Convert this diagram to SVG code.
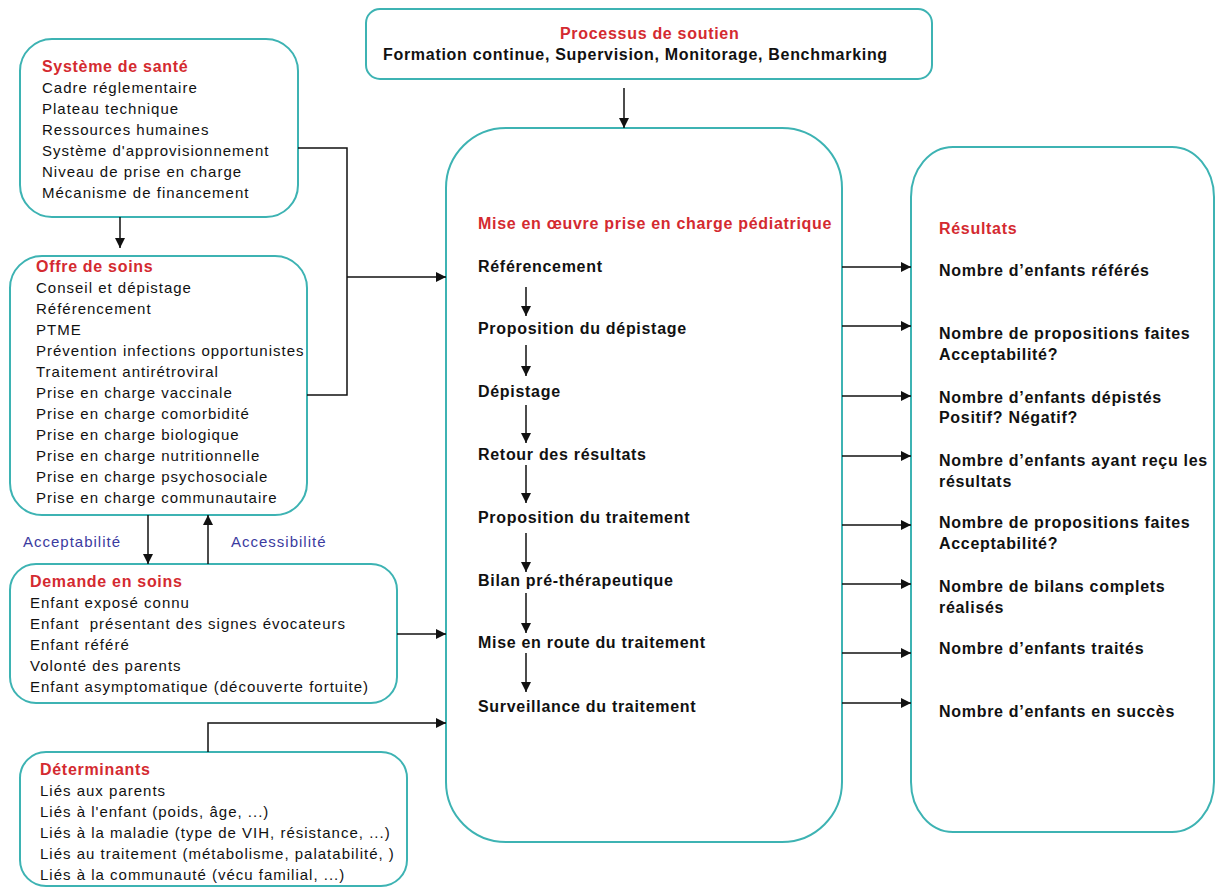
<svg xmlns="http://www.w3.org/2000/svg" width="1216" height="888" viewBox="0 0 1216 888">
  <style>
    .box { fill: #ffffff; stroke: #3DB3B3; stroke-width: 2; }
    text { font-family: "Liberation Sans", Arial, sans-serif; fill: #111111; }
    .t { font-size: 15px; letter-spacing: 1px; }
    .h { font-size: 16px; font-weight: bold; letter-spacing: 0.7px; fill: #D42A30; }
    .b { font-size: 16px; font-weight: bold; letter-spacing: 0.7px; }
    .lbl { font-size: 15px; letter-spacing: 1px; fill: #3B3BA0; }
    .link { fill: none; stroke: #111111; stroke-width: 1.5; }
    .arr { marker-end: url(#head); }
  </style>
  <defs>
    <marker id="head" markerUnits="userSpaceOnUse" markerWidth="11" markerHeight="11" refX="10" refY="5" orient="auto">
      <path d="M0,0 L10,5 L0,10 z" fill="#111111"/>
    </marker>
  </defs>
  <rect width="1216" height="888" fill="#ffffff"/>

  <!-- Processus de soutien -->
  <g id="soutien">
    <rect class="box" x="366" y="9" width="566" height="70" rx="14"/>
    <text class="h" x="560" y="39">Processus de soutien</text>
    <text class="b" x="383" y="60">Formation continue, Supervision, Monitorage, Benchmarking</text>
  </g>

  <!-- Système de santé -->
  <g id="systeme">
    <rect class="box" x="20" y="39" width="278" height="178" rx="32"/>
    <text class="h" x="42" y="72">Système de santé</text>
    <text class="t" x="42" y="93">Cadre réglementaire</text>
    <text class="t" x="42" y="114">Plateau technique</text>
    <text class="t" x="42" y="135">Ressources humaines</text>
    <text class="t" x="42" y="156">Système d'approvisionnement</text>
    <text class="t" x="42" y="177">Niveau de prise en charge</text>
    <text class="t" x="42" y="198">Mécanisme de financement</text>
  </g>

  <!-- Offre de soins -->
  <g id="offre">
    <rect class="box" x="10" y="256" width="297" height="259" rx="32"/>
    <text class="h" x="36" y="272">Offre de soins</text>
    <text class="t" x="36" y="293">Conseil et dépistage</text>
    <text class="t" x="36" y="314">Référencement</text>
    <text class="t" x="36" y="335">PTME</text>
    <text class="t" x="36" y="356">Prévention infections opportunistes</text>
    <text class="t" x="36" y="377">Traitement antirétroviral</text>
    <text class="t" x="36" y="398">Prise en charge vaccinale</text>
    <text class="t" x="36" y="419">Prise en charge comorbidité</text>
    <text class="t" x="36" y="440">Prise en charge biologique</text>
    <text class="t" x="36" y="461">Prise en charge nutritionnelle</text>
    <text class="t" x="36" y="482">Prise en charge psychosociale</text>
    <text class="t" x="36" y="503">Prise en charge communautaire</text>
  </g>

  <!-- Demande en soins -->
  <g id="demande">
    <rect class="box" x="10" y="564" width="387" height="139" rx="26"/>
    <text class="h" x="30" y="587">Demande en soins</text>
    <text class="t" x="30" y="608">Enfant exposé connu</text>
    <text class="t" x="30" y="629" xml:space="preserve" style="white-space:pre">Enfant  présentant des signes évocateurs</text>
    <text class="t" x="30" y="650">Enfant référé</text>
    <text class="t" x="30" y="671">Volonté des parents</text>
    <text class="t" x="30" y="692">Enfant asymptomatique (découverte fortuite)</text>
  </g>

  <!-- Déterminants -->
  <g id="determinants">
    <rect class="box" x="20" y="752" width="387" height="134" rx="26"/>
    <text class="h" x="40" y="775">Déterminants</text>
    <text class="t" x="40" y="796">Liés aux parents</text>
    <text class="t" x="40" y="817">Liés à l'enfant (poids, âge, ...)</text>
    <text class="t" x="40" y="838">Liés à la maladie (type de VIH, résistance, ...)</text>
    <text class="t" x="40" y="859">Liés au traitement (métabolisme, palatabilité, )</text>
    <text class="t" x="40" y="880">Liés à la communauté (vécu familial, ...)</text>
  </g>

  <!-- Mise en oeuvre -->
  <g id="mise-en-oeuvre">
    <rect class="box" x="446" y="128" width="396" height="714" rx="60"/>
    <text class="h" x="478" y="229">Mise en œuvre prise en charge pédiatrique</text>
    <text class="b" x="478" y="272">Référencement</text>
    <text class="b" x="478" y="334">Proposition du dépistage</text>
    <text class="b" x="478" y="397">Dépistage</text>
    <text class="b" x="478" y="460">Retour des résultats</text>
    <text class="b" x="478" y="523">Proposition du traitement</text>
    <text class="b" x="478" y="586">Bilan pré-thérapeutique</text>
    <text class="b" x="478" y="648">Mise en route du traitement</text>
    <text class="b" x="478" y="712">Surveillance du traitement</text>
  </g>

  <!-- Résultats -->
  <g id="resultats">
    <rect class="box" x="911" y="147" width="303" height="685" rx="42" ry="50"/>
    <text class="h" x="939" y="234">Résultats</text>
    <text class="b" x="939" y="276">Nombre d’enfants référés</text>
    <text class="b" x="939" y="339">Nombre de propositions faites</text>
    <text class="b" x="939" y="360">Acceptabilité?</text>
    <text class="b" x="939" y="403">Nombre d’enfants dépistés</text>
    <text class="b" x="939" y="423">Positif? Négatif?</text>
    <text class="b" x="939" y="466">Nombre d’enfants ayant reçu les</text>
    <text class="b" x="939" y="487">résultats</text>
    <text class="b" x="939" y="528">Nombre de propositions faites</text>
    <text class="b" x="939" y="549">Acceptabilité?</text>
    <text class="b" x="939" y="592">Nombre de bilans complets</text>
    <text class="b" x="939" y="613">réalisés</text>
    <text class="b" x="939" y="654">Nombre d’enfants traités</text>
    <text class="b" x="939" y="717">Nombre d’enfants en succès</text>
  </g>

  <!-- Connectors -->
  <g id="connectors">
    <path class="link arr" d="M624,88 V128"/>
    <path class="link arr" d="M120,217 V248"/>
    <path class="link" d="M298,148 H347 V395 H307"/>
    <path class="link arr" d="M347,277 H446"/>
    <path class="link arr" d="M148,515 V564"/>
    <path class="link arr" d="M208,564 V515"/>
    <path class="link arr" d="M397,634 H446"/>
    <path class="link arr" d="M208,752 V723 H446"/>

    <path class="link arr" d="M526,287 V316"/>
    <path class="link arr" d="M526,345 V376"/>
    <path class="link arr" d="M526,405 V443"/>
    <path class="link arr" d="M526,465 V503"/>
    <path class="link arr" d="M526,533 V572"/>
    <path class="link arr" d="M526,593 V633"/>
    <path class="link arr" d="M526,653 V692"/>

    <path class="link arr" d="M842,267 H911"/>
    <path class="link arr" d="M842,326 H911"/>
    <path class="link arr" d="M842,396 H911"/>
    <path class="link arr" d="M842,456 H911"/>
    <path class="link arr" d="M842,525 H911"/>
    <path class="link arr" d="M842,584 H911"/>
    <path class="link arr" d="M842,653 H911"/>
    <path class="link arr" d="M842,703 H911"/>

    <text class="lbl" x="23" y="547">Acceptabilité</text>
    <text class="lbl" x="231" y="547">Accessibilité</text>
  </g>
</svg>
